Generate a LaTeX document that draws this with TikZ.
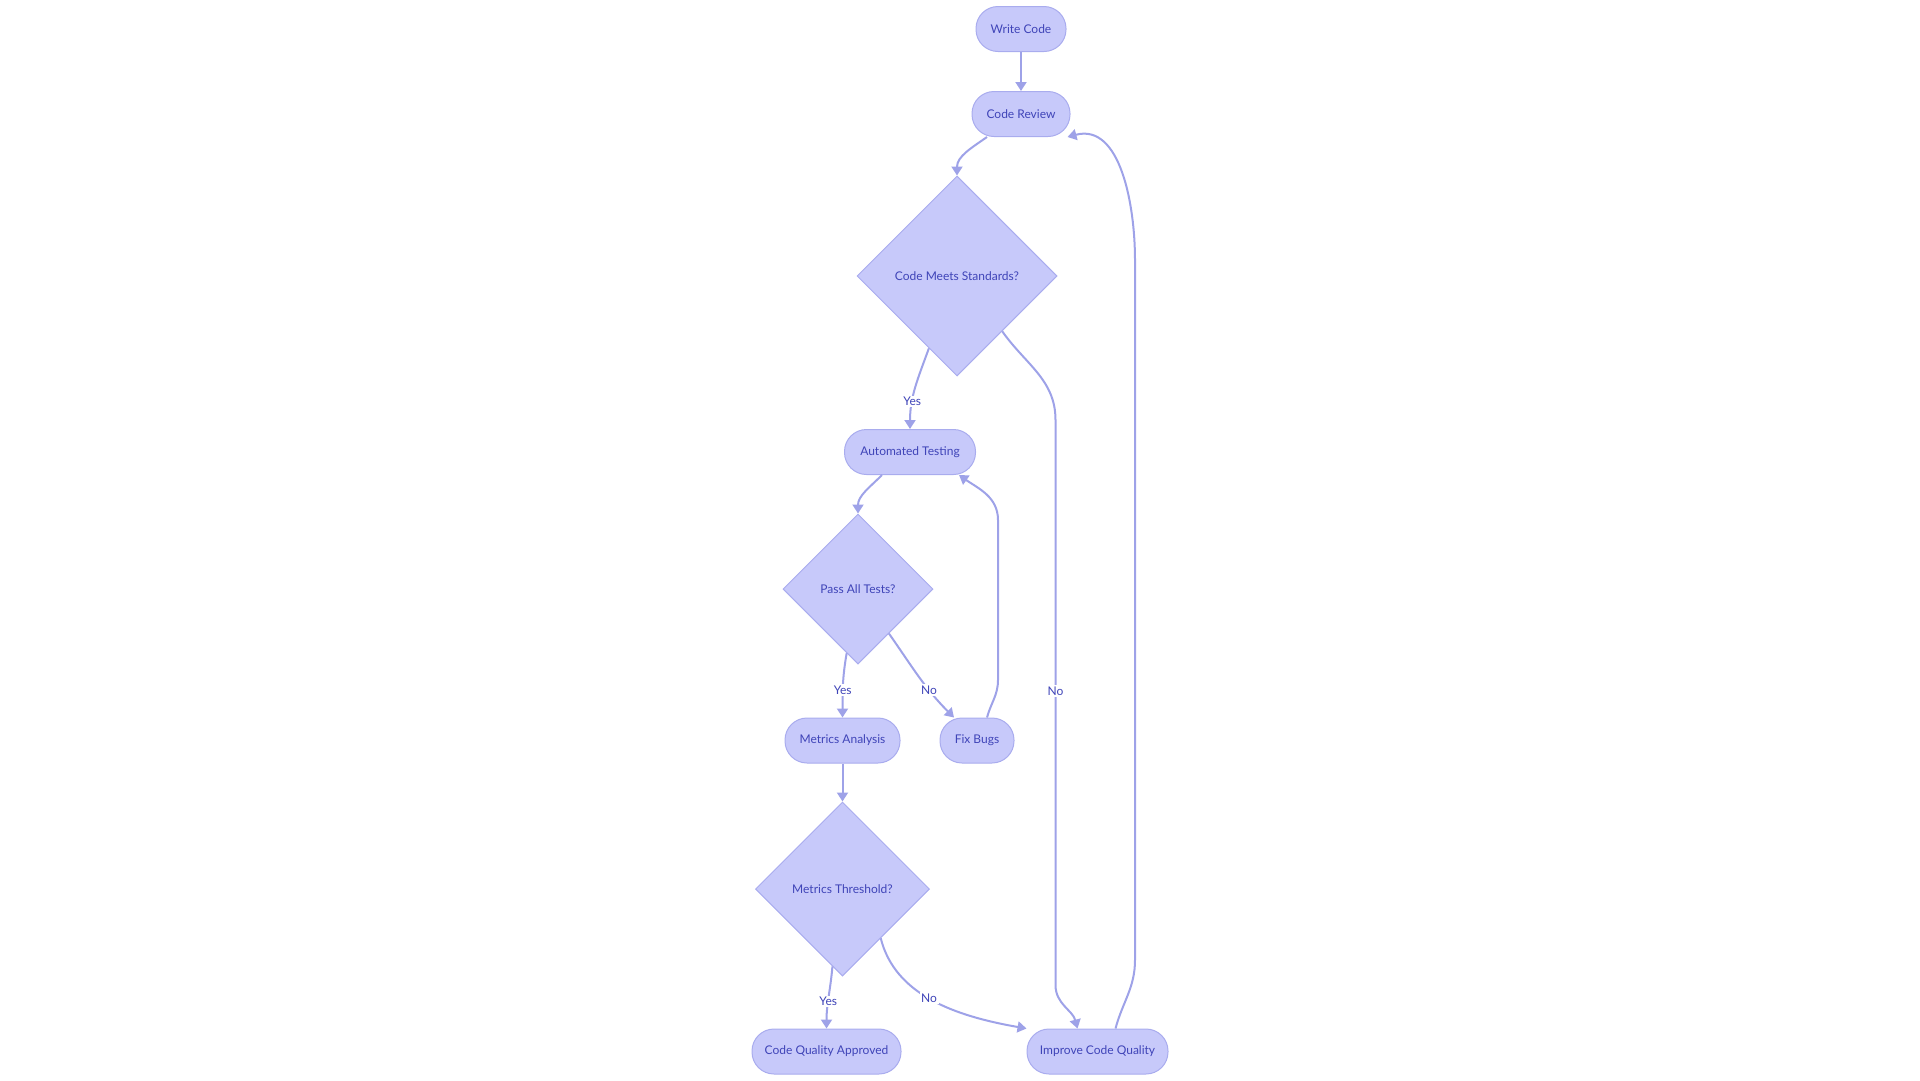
\documentclass[tikz,border=0pt]{standalone}
\usepackage{fontspec}
\setmainfont{Lato}
\usetikzlibrary{arrows.meta, shapes.geometric, calc}
\definecolor{nodefill}{HTML}{C7C9FA}
\definecolor{nodeline}{HTML}{A9ACEE}
\definecolor{edgeline}{HTML}{9EA2E8}
\definecolor{nodetext}{HTML}{3F44B8}
\tikzset{
  pill/.style = {draw=nodeline, fill=nodefill, line width=1pt, rounded corners=22pt,
                 minimum height=45pt, inner xsep=0pt, text=nodetext,
                 font=\fontsize{12}{14}\selectfont},
  dec/.style  = {diamond, aspect=1, draw=nodeline, fill=nodefill, line width=1pt,
                 inner sep=0pt, text=nodetext, font=\fontsize{12}{14}\selectfont},
  flow/.style = {-{Triangle[length=9pt, width=11pt]}, line width=2pt, draw=edgeline},
  lbl/.style  = {fill=white, inner sep=1.5pt, text=nodetext,
                 font=\fontsize{12}{14}\selectfont},
}

\begin{document}
\begin{tikzpicture}[x=1pt, y=-1pt]
    \useasboundingbox (0,0) rectangle (1920,1080);

    \node[pill, minimum width=90pt]  (wc)  at (1021,29)   {Write Code};
    \node[pill, minimum width=98pt]  (cr)  at (1021,114)  {Code Review};
    \node[dec, minimum size=200pt]   (cms) at (957,276)     {Code Meets Standards?};
    \node[pill, minimum width=131pt] (at)  at (910,452)     {Automated Testing};
    \node[dec, minimum size=150pt]   (pat) at (858,589)     {Pass All Tests?};
    \node[pill, minimum width=115pt] (ma)  at (842.5,740.5) {Metrics Analysis};
    \node[pill, minimum width=74pt]  (fb)  at (977,740.5)   {Fix Bugs};
    \node[dec, minimum size=174pt]   (mt)  at (842.5,889)   {Metrics Threshold?};
    \node[pill, minimum width=149pt] (cqa) at (826.5,1051.5) {Code Quality Approved};
    \node[pill, minimum width=141pt] (iq)  at (1097.5,1051.5) {Improve Code Quality};

    \draw[flow] (wc) -- (cr);
    \draw[flow] ([xshift=-34pt]cr.south) to[out=-145, in=90] (cms.north);
    \draw[flow] ($(cms.south)!0.28!(cms.west)$) to[out=-110, in=90]
      node[lbl, pos=0.68] (y1) {Yes} (at.north);
    \draw[flow] ($(cms.south)!0.45!(cms.east)$) to[out=-55, in=90] (1055.5,420)
      -- node[lbl, pos=0.48] (n1) {No} (1055.5,985)
      to[out=-90, in=105] ([xshift=-20pt]iq.north);
    % loop back to the review
    \draw[flow] ([xshift=18pt]iq.north) to[out=75, in=-90] (1135,960)
      -- (1135,260) to[out=90, in=15] ([xshift=-3pt]cr.south east);

    \draw[flow] ([xshift=-28pt]at.south) to[out=-135, in=90] (pat.north);
    \draw[flow] ($(pat.south)!0.15!(pat.west)$) to[out=-100, in=90]
      node[lbl, pos=0.58] (y2) {Yes} (ma.north);
    \draw[flow] ($(pat.south)!0.41!(pat.east)$) to[out=-55, in=135]
      node[lbl, pos=0.66] (n2) {No} ([xshift=-23pt]fb.north);
    \draw[flow] ([xshift=10pt]fb.north) to[out=75, in=-90] (998,680)
      -- (998,520) to[out=90, in=-35] ([xshift=-17pt]at.south east);

    \draw[flow] (ma) -- (mt);
    \draw[flow] ($(mt.south)!0.115!(mt.west)$) to[out=-95, in=90]
      node[lbl, pos=0.57] (y3) {Yes} (cqa.north);
    \draw[flow] ($(mt.south)!0.437!(mt.east)$) .. controls (895,995) and (955,1016)
      .. node[lbl, pos=0.48] (n3) {No} (iq.north west);
  \end{tikzpicture}
\end{document}
